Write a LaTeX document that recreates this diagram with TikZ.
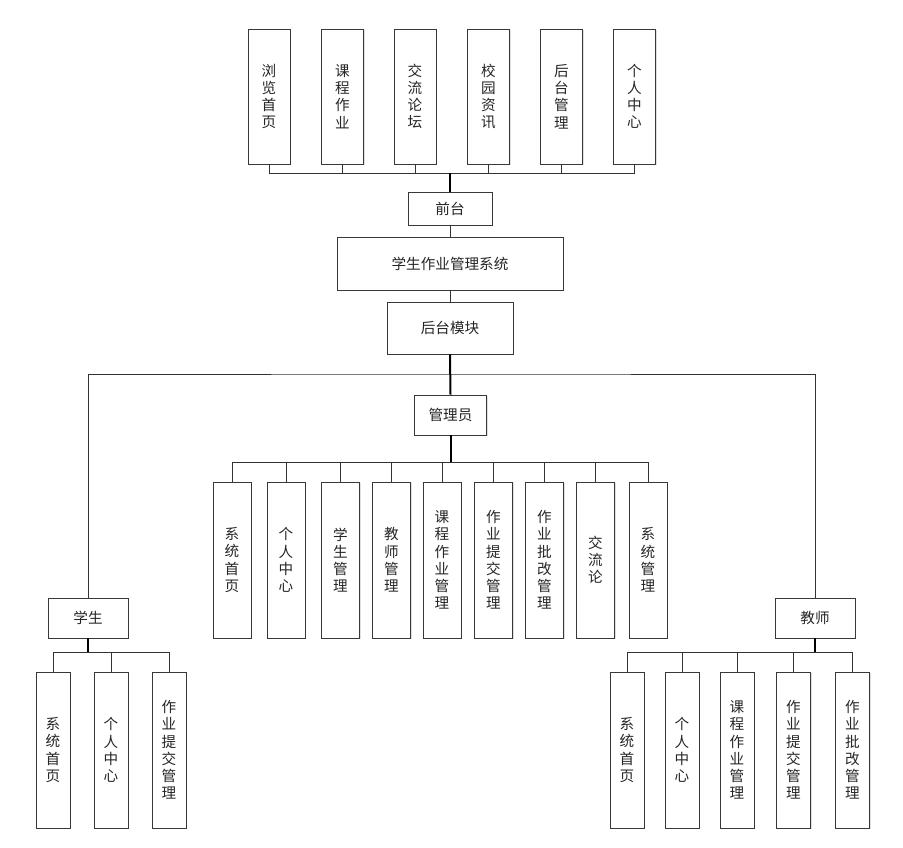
\documentclass[tikz,border=0pt]{standalone}
\usepackage{fontspec}
\newfontfamily\cjk{Noto Sans CJK SC}
\usetikzlibrary{shadows}
\begin{document}
\begin{tikzpicture}[x=1pt,y=-1pt,
  box/.style={draw=black!78, line width=0.9pt, fill=white, inner sep=0pt,
    align=center, text=black!85, font=\cjk\fontsize{14.6}{17.2}\selectfont,
    drop shadow={shadow xshift=1.2pt, shadow yshift=-1.2pt, fill=black!12, opacity=1}},
  conn/.style={draw=black!80, line width=0.9pt},
  trunk/.style={draw=black, line width=2pt}]
\useasboundingbox (0,0) rectangle (903,848);
% top
\foreach \i/\x/\t in {1/269/浏\\览\\首\\页, 2/342.5/课\\程\\作\\业, 3/415/交\\流\\论\\坛, 4/488.5/校\\园\\资\\讯, 5/561.5/后\\台\\管\\理, 6/634.5/个\\人\\中\\心}
  \node[box, minimum width=42pt, minimum height=135pt] (t\i) at (\x,96.5) {\t};
\node[box, minimum width=84pt, minimum height=33pt] (qt) at (450,208.5) {前台};
\node[box, minimum width=226pt, minimum height=53pt] (sys) at (450,263.5) {学生作业管理系统};
\node[box, minimum width=126pt, minimum height=52pt] (ht) at (450,328) {后台模块};
\node[box, minimum width=72pt, minimum height=40pt] (adm) at (450.5,415) {管理员};
\node[box, minimum width=80pt, minimum height=40pt] (stu) at (88,618) {学生};
\node[box, minimum width=80pt, minimum height=40pt] (tea) at (815,618) {教师};
% admin children
\foreach \i/\x/\t in {1/232/系\\统\\首\\页, 2/286/个\\人\\中\\心, 3/340.5/学\\生\\管\\理, 4/391.5/教\\师\\管\\理, 5/442/课\\程\\作\\业\\管\\理, 6/493.5/作\\业\\提\\交\\管\\理, 7/544.5/作\\业\\批\\改\\管\\理, 8/595.5/交\\流\\论, 9/648/系\\统\\管\\理}
  \node[box, minimum width=38pt, minimum height=156pt] (a\i) at (\x,560) {\t};
% student children
\foreach \i/\x/\t in {1/53/系\\统\\首\\页, 2/111/个\\人\\中\\心, 3/169/作\\业\\提\\交\\管\\理}
  \node[box, minimum width=34pt, minimum height=156pt] (s\i) at (\x,750) {\t};
% teacher children
\foreach \i/\x/\t in {1/627/系\\统\\首\\页, 2/682/个\\人\\中\\心, 3/737/课\\程\\作\\业\\管\\理, 4/793.5/作\\业\\提\\交\\管\\理, 5/852.5/作\\业\\批\\改\\管\\理}
  \node[box, minimum width=34pt, minimum height=156pt] (e\i) at (\x,750) {\t};
% bus coordinates
\coordinate (busT) at (450,173);
\coordinate (busA) at (450.5,462);
\coordinate (busM) at (450,374);
\coordinate (busS) at (88,652);
\coordinate (busE) at (815,652);
% top connectors
\foreach \i in {1,...,6} \draw[conn] (t\i.south) |- (busT);
\draw[trunk] (busT) -- (qt.north);
\draw[conn] (qt.south) -- (sys.north);
\draw[conn] (sys.south) -- (ht.north);
\draw[conn] (stu.north) |- (busM) -| (tea.north);
\draw[trunk] (ht.south) -- (adm.north);
% admin
\foreach \i in {1,...,9} \draw[conn] (a\i.north) |- (busA);
\draw[trunk] (adm.south) -- (busA);
% student
\foreach \i in {1,...,3} \draw[conn] (s\i.north) |- (busS);
\draw[trunk] (stu.south) -- (busS);
% teacher
\foreach \i in {1,...,5} \draw[conn] (e\i.north) |- (busE);
\draw[trunk] (tea.south) -- (busE);
\end{tikzpicture}
\end{document}
